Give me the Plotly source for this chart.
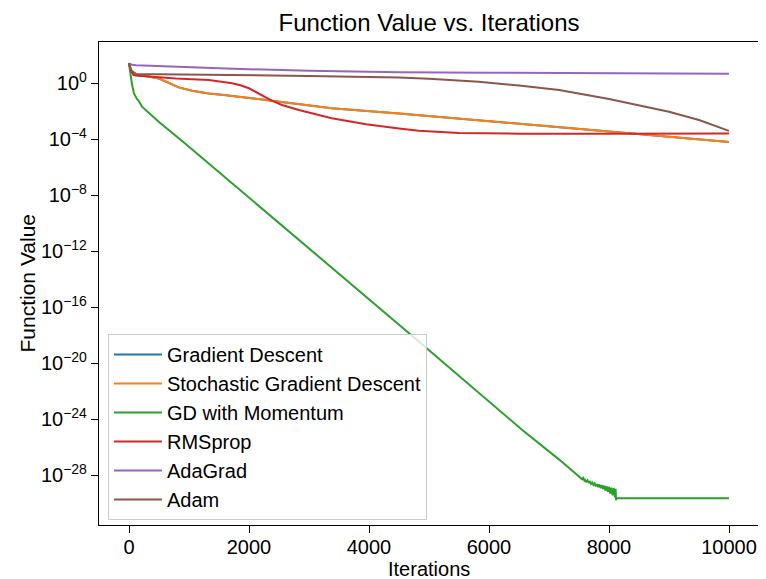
import plotly.graph_objects as go

# ---- data ----
gd_iters = [0, 30, 80, 300, 500, 670, 830, 1050, 1330, 1620, 1720, 2280, 3380, 4500, 6000, 8000, 10000]
gd_vals = [25.7, 7.9, 3.7, 3.0, 2.1, 0.95, 0.49, 0.28, 0.178, 0.132, 0.12, 0.0617, 0.0155, 0.0066, 0.00178, 0.000347, 0.0000617]

sgd_iters = [0, 30, 80, 300, 500, 670, 830, 1050, 1330, 1620, 1720, 2280, 3380, 4500, 6000, 8000, 10000]
sgd_vals = [25.7, 7.9, 3.7, 3.0, 2.1, 0.95, 0.49, 0.28, 0.178, 0.132, 0.12, 0.0617, 0.0155, 0.0066, 0.00178, 0.000347, 0.0000617]

mom_iters = [0, 10, 28, 50, 83, 130, 167, 217, 383, 500, 950, 2050, 3170, 4830, 6550, 7170, 7500,
             7550, 7570, 7590,
             7600, 7620, 7640, 7660, 7680, 7700, 7720, 7740, 7760, 7780, 7800, 7820, 7840, 7860,
             7880, 7900, 7920, 7940, 7960, 7980, 8000, 8020, 8040, 8060, 8080, 8100, 8110, 8118,
             8125, 10000]
mom_vals = [25.7, 10.0, 3.7, 0.79, 0.18, 0.075, 0.05, 0.0204, 0.0045, 0.00166, 4.2e-5, 4.4e-9,
            3.7e-13, 3.5e-19, 1.7e-25, 1.26e-27, 7.9e-29,
            5.0e-29, 6.3e-29, 4.0e-29,
            4.5e-29, 3.4e-29, 4.2e-29, 3.0e-29, 3.4e-29, 2.3e-29, 3.0e-29, 1.95e-29, 2.5e-29,
            1.58e-29, 2.2e-29, 1.35e-29, 2.1e-29, 1.17e-29, 1.9e-29, 1.0e-29, 1.74e-29, 7.9e-30,
            1.58e-29, 6.3e-30, 1.41e-29, 4.7e-30, 1.26e-29, 3.5e-30, 1.17e-29, 2.5e-30, 1.05e-29,
            1.58e-30, 2.2e-30, 2.2e-30]

rms_iters = [0, 30, 80, 220, 780, 1170, 1330, 1720, 1870, 2000, 2140, 2280, 2380, 2550, 2830,
             3380, 3950, 4500, 4830, 5500, 6500, 8000, 10000]
rms_vals = [25.7, 7.9, 3.7, 3.2, 2.1, 1.9, 1.63, 0.95, 0.66, 0.42, 0.195, 0.089, 0.055, 0.027,
            0.0117, 0.0030, 0.00112, 0.00056, 0.00039, 0.00027, 0.00024, 0.00024, 0.00025]

ada_iters = [0, 50, 120, 780, 1170, 1620, 3000, 4500, 6000, 8000, 10000]
ada_vals = [25.7, 20.0, 18.6, 14.5, 11.7, 10.7, 7.4, 6.0, 5.5, 5.0, 4.6]

adam_iters = [0, 40, 120, 1000, 1670, 3000, 4500, 5000, 5830, 6500, 7170, 8000, 8500, 9000, 9500, 10000]
adam_vals = [25.7, 7.9, 4.4, 4.2, 3.7, 3.2, 2.5, 2.0, 1.23, 0.66, 0.32, 0.071, 0.025, 0.0089, 0.0023, 0.00038]

series_names = ["Gradient Descent", "Stochastic Gradient Descent", "GD with Momentum",
                "RMSprop", "AdaGrad", "Adam"]
series_colors = ["#1f77b4", "#ff7f0e", "#2ca02c", "#d62728", "#9467bd", "#8c564b"]

x_ticks = [0, 2000, 4000, 6000, 8000, 10000]
x_tick_text = ["0", "2000", "4000", "6000", "8000", "10000"]
y_tick_vals = [1e0, 1e-4, 1e-8, 1e-12, 1e-16, 1e-20, 1e-24, 1e-28]
y_tick_text = ["10<sup>0</sup>", "10<sup>\u22124</sup>", "10<sup>\u22128</sup>", "10<sup>\u221212</sup>",
               "10<sup>\u221216</sup>", "10<sup>\u221220</sup>", "10<sup>\u221224</sup>", "10<sup>\u221228</sup>"]

# ---- figure ----
data = [(gd_iters, gd_vals), (sgd_iters, sgd_vals), (mom_iters, mom_vals),
        (rms_iters, rms_vals), (ada_iters, ada_vals), (adam_iters, adam_vals)]

fig = go.Figure()
for (xs, ys), name, col in zip(data, series_names, series_colors):
    fig.add_trace(go.Scatter(x=xs, y=ys, mode="lines", name=name,
                             line=dict(color=col, width=2)))

# the page body has an 8px margin, so the figure is 8px smaller and offsets are reduced by 8
W, H = 758, 571
FONT = "Liberation Sans, Arial, Helvetica, sans-serif"
fig.update_layout(
    width=W, height=H,
    margin=dict(l=91, r=7, t=34, b=54),
    paper_bgcolor="white", plot_bgcolor="white",
    font=dict(family=FONT, color="black", size=20),
    title=dict(text="Function Value vs. Iterations", x=0.5, xref="paper",
               y=1 - 15 / H, yref="container", yanchor="middle", xanchor="center",
               font=dict(size=24, family=FONT, color="black")),
    legend=dict(x=0.0136, y=0.0104, xanchor="left", yanchor="bottom",
                bgcolor="rgba(255,255,255,0.8)", bordercolor="#cccccc", borderwidth=1,
                font=dict(size=20, family=FONT), itemwidth=48,
                entrywidth=266, entrywidthmode="pixels"),
    showlegend=True,
    annotations=[
        dict(text="Iterations", xref="paper", yref="paper", x=0.5, y=-44 / 483,
             xanchor="center", yanchor="middle", showarrow=False, font=dict(size=20)),
        dict(text="Function Value", xref="paper", yref="paper", x=-72 / 660, y=0.5,
             xanchor="center", yanchor="middle", showarrow=False, textangle=-90,
             font=dict(size=21)),
    ],
)
fig.update_xaxes(range=[-500, 10500], tickvals=x_ticks, ticktext=x_tick_text, ticks="outside",
                 ticklen=7, tickwidth=1.2, tickcolor="black", showline=True, linecolor="black",
                 linewidth=1.2, mirror=True, showgrid=False, zeroline=False, automargin=False,
                 tickfont=dict(size=20), ticklabelstandoff=-3)
fig.update_yaxes(type="log", range=[-31.57, 2.93], tickvals=y_tick_vals, ticktext=y_tick_text,
                 ticks="outside", ticklen=7, tickwidth=1.2, tickcolor="black", showline=True,
                 linecolor="black", linewidth=1.2, mirror=True, showgrid=False, zeroline=False,
                 automargin=False, tickfont=dict(size=20))

fig.write_html("out.html")
